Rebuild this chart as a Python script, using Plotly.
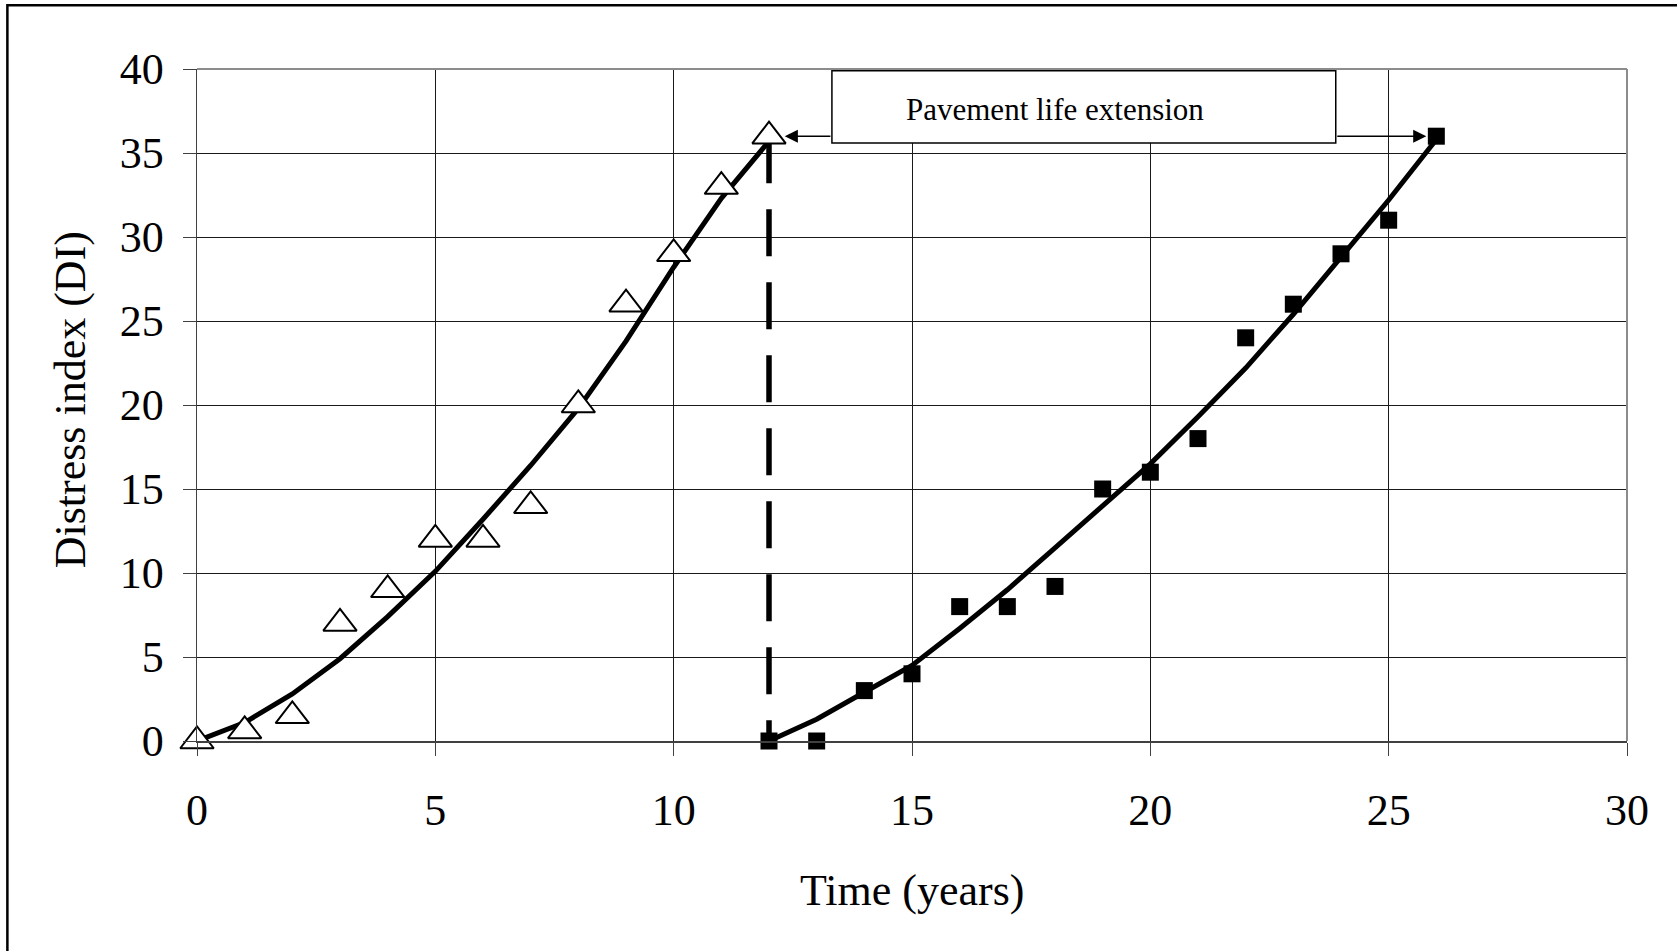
import plotly.graph_objects as go

# ---------------- data ----------------
years_before = [0, 1, 2, 3, 4, 5, 6, 7, 8, 9, 10, 11, 12]
di_before = [0, 0.6, 1.5, 7, 9, 12, 12, 14, 20, 26, 29, 33, 36]
trend_before = [0, 1.1, 2.8, 4.9, 7.4, 10.1, 13.2, 16.4, 19.8, 23.8, 28.2, 32.3, 35.7]

years_after = [12, 13, 14, 15, 16, 17, 18, 19, 20, 21, 22, 23, 24, 25, 26]
di_after = [0, 0, 3, 4, 8, 8, 9.2, 15, 16, 18, 24, 26, 29, 31, 36]
trend_after = [0, 1.3, 2.9, 4.5, 6.7, 9.0, 11.5, 14.0, 16.5, 19.3, 22.2, 25.4, 28.8, 32.2, 35.8]

x_ticks = [0, 5, 10, 15, 20, 25, 30]
y_ticks = [0, 5, 10, 15, 20, 25, 30, 35, 40]
x_title = "Time (years)"
y_title = "Distress index (DI)"
box_text = "Pavement life extension"

FONT = "Times New Roman, Liberation Serif, serif"

fig = go.Figure()

# trend curves
fig.add_trace(go.Scatter(x=years_before, y=trend_before, mode="lines",
                         line=dict(color="black", width=5), showlegend=False,
                         hoverinfo="skip"))
fig.add_trace(go.Scatter(x=years_after, y=trend_after, mode="lines",
                         line=dict(color="black", width=5), showlegend=False,
                         hoverinfo="skip"))

# dashed vertical line at end of first life (drawn from top to bottom)
end_year = years_before[-1]
end_di = di_before[-1]
fig.add_trace(go.Scatter(x=[end_year, end_year], y=[end_di, 0], mode="lines",
                         line=dict(color="black", width=5.5, dash="47px,26px"),
                         showlegend=False, hoverinfo="skip", cliponaxis=False))

# markers
fig.add_trace(go.Scatter(x=years_before, y=di_before, mode="markers",
                         marker=dict(symbol="triangle-up", size=29, color="white",
                                     line=dict(color="black", width=2)),
                         showlegend=False, cliponaxis=False))
fig.add_trace(go.Scatter(x=years_after, y=di_after, mode="markers",
                         marker=dict(symbol="square", size=17, color="black",
                                     line=dict(color="black", width=0)),
                         showlegend=False, cliponaxis=False))

axis_common = dict(
    showgrid=True, gridcolor="#1a1a1a", gridwidth=1,
    zeroline=False, showline=True, linecolor="#404040",
    ticks="outside", ticklen=13, tickwidth=1, tickcolor="#404040",
    tickfont=dict(family=FONT, size=44, color="black"),
    fixedrange=True,
)

fig.update_xaxes(range=[0, 30], tickmode="array", tickvals=x_ticks,
                 ticktext=[str(v) for v in x_ticks], linewidth=2,
                 ticklabelstandoff=16, **axis_common)
fig.update_yaxes(range=[0, 40], tickmode="array", tickvals=y_ticks,
                 ticktext=[str(v) for v in y_ticks], linewidth=1.5,
                 ticklabelstandoff=10, **axis_common)

shapes = [
    # plot-area border (top & right) in gray
    dict(type="line", xref="paper", yref="paper", x0=0, x1=1, y0=1, y1=1,
         line=dict(color="#8c8c8c", width=2), layer="above"),
    dict(type="line", xref="paper", yref="paper", x0=1, x1=1, y0=0, y1=1,
         line=dict(color="#8c8c8c", width=2), layer="above"),
    # outer chart frame
    dict(type="rect", xref="paper", yref="paper", x0=-0.1326, x1=1.06,
         y0=-0.35, y1=1.0950, line=dict(color="black", width=2.5),
         fillcolor="rgba(0,0,0,0)", layer="above"),
    # text box
    dict(type="rect", xref="x", yref="y", x0=13.32, x1=23.89, y0=35.6, y1=39.9,
         line=dict(color="black", width=1.5), fillcolor="white", layer="above"),
]

annotations = [
    dict(x=18.0, y=37.6, xref="x", yref="y", text=box_text, showarrow=False,
         font=dict(family=FONT, size=31, color="black"),
         xanchor="center", yanchor="middle"),
    # left arrow (to end of first life)
    dict(x=end_year + 0.33, y=end_di, xref="x", yref="y",
         ax=13.32, ay=end_di, axref="x", ayref="y", text="",
         showarrow=True, arrowhead=2, arrowsize=1.75, arrowwidth=1.5,
         arrowcolor="black", standoff=0),
    # right arrow (to end of extended life)
    dict(x=years_after[-1] - 0.21, y=di_after[-1], xref="x", yref="y",
         ax=23.89, ay=di_after[-1], axref="x", ayref="y", text="",
         showarrow=True, arrowhead=2, arrowsize=1.75, arrowwidth=1.5,
         arrowcolor="black", standoff=0),
    # axis titles
    dict(x=0.5, y=-0.2224, xref="paper", yref="paper", text=x_title,
         showarrow=False, font=dict(family=FONT, size=44, color="black"),
         xanchor="center", yanchor="middle"),
    dict(x=-0.0886, y=0.5074, xref="paper", yref="paper", text=y_title,
         showarrow=False, textangle=-90,
         font=dict(family=FONT, size=44, color="black"),
         xanchor="center", yanchor="middle"),
]

fig.update_layout(
    width=1677, height=951,
    margin=dict(l=197, r=50, t=69, b=210),
    paper_bgcolor="white", plot_bgcolor="white",
    shapes=shapes, annotations=annotations,
    showlegend=False,
    font=dict(family=FONT, color="black"),
)

fig.write_html(
    "out.html",
    config={"displayModeBar": False, "staticPlot": True},
    post_script="document.body.style.margin='0';document.body.style.overflow='hidden';",
)
